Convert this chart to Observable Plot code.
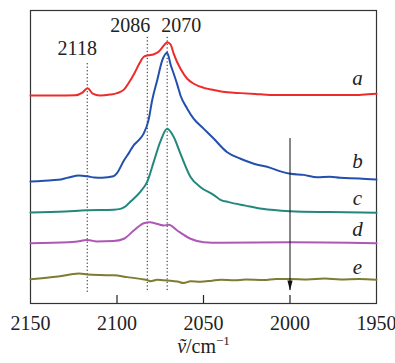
<!DOCTYPE html>
<html><head><meta charset="utf-8">
<script src="https://cdn.jsdelivr.net/npm/d3@7"></script>
<script src="https://cdn.jsdelivr.net/npm/@observablehq/plot@0.6"></script>
<style>
body{margin:0;background:#fff}
svg{display:block}
#chart svg, #chart svg text, #chart svg tspan { font-family: "Liberation Serif", "Times New Roman", serif !important; }
</style>
</head><body><div id="chart"></div>
<script>
// ---- data (wavenumber in cm^-1, offset absorbance in arbitrary units) ----
const aWave = [2150,2135,2124,2120,2117,2114,2110,2104,2100,2096,2093,2090,2087,2084.5,2082,2079,2076,2073,2071,2069,2067.2,2063.3,2059.4,2055.6,2049.8,2044,2036.3,2028.6,2020,2011.3,2000,1980,1960,1955,1950];
const aVal  = [71.0,71.0,71.1,72.0,73.5,71.6,71.0,71.3,71.8,73.0,75.5,78.5,82.0,84.2,84.7,85.0,85.9,88.0,89.2,88.4,85.2,80.1,76.7,75.0,73.6,72.9,72.1,71.8,71.5,71.2,71.2,71.2,71.2,71.4,71.6];

const bWave = [2150,2142,2134,2128,2122,2117,2113,2108.6,2102,2100,2096,2093,2090.5,2087,2084.7,2081.8,2079.7,2076.8,2073.9,2071,2069,2067.2,2065.2,2063.3,2059.4,2055.6,2049.8,2044,2036.3,2028.6,2020.9,2011.3,2005,1999.7,1992,1984.3,1977,1970.9,1960,1950];
const bVal  = [41.6,41.9,42.2,43.0,43.7,43.4,43.0,42.9,43.4,44.5,48.8,51.5,53.9,56.0,57.9,62.5,69.3,76.1,82.9,85.6,81.5,78.4,74.8,71.0,66.5,63.0,59.6,56.2,51.6,49.4,47.7,46.3,45.0,44.3,43.9,43.1,43.3,42.9,42.7,42.3];

const cWave = [2150,2130,2118,2102,2098,2095,2092.2,2086.4,2082.5,2078.7,2074.9,2071,2067.2,2063.3,2057.5,2051.7,2044,2040.2,2035.5,2025.7,2016.1,2000,1977.7,1950];
const cVal  = [31.1,31.4,31.8,32.0,32.3,33.2,34.8,38.2,41.6,48.5,55.3,59.6,56.8,51.1,43.2,39.7,37.0,35.4,34.6,33.4,32.3,31.5,31.2,31.0];

const dWave = [2150,2128,2121,2118,2115,2112,2102,2096,2090.3,2084.5,2081,2078.7,2075,2073,2070,2065.2,2057.5,2049.8,2040.2,2000,1950];
const dVal  = [20.6,20.9,21.3,21.7,21.5,21.2,21.3,22.1,24.9,27.4,27.7,27.5,26.9,26.6,26.9,24.9,22.1,20.9,20.7,20.9,20.6];

const eWave = [2150,2134,2122,2117,2110,2102,2094,2086.4,2082,2080.6,2076.8,2073,2069.1,2065,2061.4,2057.5,2051.7,2045,2040.2,2032,2025.7,2015,2008,1999.7,1990,1980,1970.9,1960,1950];
const eVal  = [8.3,9.2,10.2,9.9,9.7,9.6,9.0,8.4,7.9,7.6,8.1,7.9,7.8,7.5,7.0,7.6,7.4,7.8,8.1,7.9,8.2,8.0,8.4,8.4,8.2,8.5,8.2,8.4,8.1];

const seriesNames  = ["a","b","c","d","e"];
const seriesColors = ["#ee2b2b","#2350ad","#23877d","#ad58b5","#7f7b30"];
const seriesWaves  = [aWave,bWave,cWave,dWave,eWave];
const seriesVals   = [aVal,bVal,cVal,dVal,eVal];
const letterWave   = 1961;
const letterVal    = [76.8,48.6,36.0,25.2,12.2];

const tickValues   = [2150,2100,2050,2000,1950];
const peakLabels   = ["2118","2086","2070"];
const peakWave     = [2117.2,2082.5,2071];
const peakTop      = [82.4,90.9,91.5];
const peakBottom   = [3.8,4.4,4.4];
const peakLabelVal = [87.0,94.9,94.9];
const peakLabelDx  = [-10,-17,14];

const arrowWave = 2000, arrowFrom = 56.3, arrowTo = 4.4;
const xLabel = "ṽ/cm−1";

// ---- build tables ----
const rows = seriesNames.flatMap((s, i) => seriesWaves[i].map((w, j) => ({s, w, v: seriesVals[i][j]})));
const peaks = peakLabels.map((t, i) => ({t, w: peakWave[i], top: peakTop[i], bot: peakBottom[i], ly: peakLabelVal[i], dx: peakLabelDx[i]}));
const letters = seriesNames.map((s, i) => ({s, w: letterWave, v: letterVal[i]}));
const arrowData = [{w: arrowWave, y1: arrowFrom, y2: arrowTo}];

const font = "Liberation Serif, Times New Roman, serif";
const arrowHead = {draw(ctx) { ctx.moveTo(0, 0); ctx.lineTo(-2.6, -10); ctx.lineTo(2.6, -10); ctx.closePath(); }};

const chart = Plot.plot({
  width: 395, height: 363,
  marginLeft: 30, marginRight: 19, marginTop: 10, marginBottom: 60,
  x: {domain: [2150, 1950], axis: null},
  y: {domain: [0, 100], axis: null},
  color: {domain: seriesNames, range: seriesColors},
  marks: [
    Plot.frame({stroke: "#333", strokeWidth: 1.2}),
    Plot.ruleX(peaks, {x: "w", y1: "bot", y2: "top", stroke: "#222", strokeWidth: 1, strokeDasharray: "1.3,2.2"}),
    ...peaks.map(p => Plot.text([p], {x: "w", y: "ly", text: "t", dx: p.dx, fontSize: 20, fill: "#222", fontFamily: font})),
    Plot.line(rows, {x: "w", y: "v", z: "s", stroke: "s", strokeWidth: 2, curve: "monotone-x"}),
    Plot.ruleX(arrowData, {x: "w", y1: "y1", y2: "y2", stroke: "#111", strokeWidth: 1}),
    Plot.dot(arrowData, {x: "w", y: "y2", symbol: arrowHead, fill: "#111", stroke: "none"}),
    Plot.text(letters, {x: "w", y: "v", text: "s", fontSize: 21, fontStyle: "italic", fill: "#222", fontFamily: font}),
    Plot.axisX({ticks: tickValues, tickSize: 0, tickPadding: 12, tickFormat: d => String(d), fontSize: 20, fill: "#222", fontFamily: font, label: null}),
    Plot.tickX(tickValues.slice(1, -1), {x: d => d, frameAnchor: "bottom", stroke: "#222", strokeWidth: 1.2, insetTop: 285}),
    Plot.text([xLabel], {frameAnchor: "bottom", dy: 49, text: d => d, fontSize: 20, fill: "#222", fontFamily: font})
  ]
});
document.getElementById("chart").appendChild(chart);

// rich formatting for the axis label (italic ṽ, superscript −1)
for (const t of chart.querySelectorAll("text")) {
  if (t.textContent === xLabel) {
    t.textContent = "";
    const ns = "http://www.w3.org/2000/svg";
    const t1 = document.createElementNS(ns, "tspan"); t1.setAttribute("font-style", "italic"); t1.textContent = "ṽ";
    const t2 = document.createElementNS(ns, "tspan"); t2.textContent = "/cm";
    const t3 = document.createElementNS(ns, "tspan"); t3.setAttribute("font-size", "13"); t3.setAttribute("dy", "-8"); t3.textContent = "−1";
    t.append(t1, t2, t3);
  }
}
</script></body></html>
